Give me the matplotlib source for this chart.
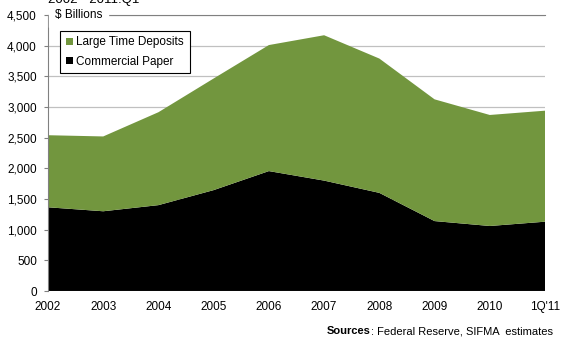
import numpy as np
import matplotlib
matplotlib.use('Agg')
import matplotlib.pyplot as plt
from matplotlib.patches import Patch

plt.rcParams['font.family'] = ['Liberation Sans', 'DejaVu Sans']

# $ billions outstanding, year end (last point is 1Q'11)
periods = ['2002', '2003', '2004', '2005', '2006', '2007', '2008', '2009', '2010', "1Q'11"]
commercial_paper = [1365, 1300, 1400, 1645, 1955, 1800, 1600, 1140, 1060, 1130]
total_outstanding = [2540, 2520, 2915, 3465, 4010, 4170, 3790, 3125, 2870, 2940]
large_time_deposits = [t - c for t, c in zip(total_outstanding, commercial_paper)]

green = '#72963e'

fig = plt.figure(figsize=(5.61, 3.39), dpi=100)
ax = fig.add_axes([48 / 561, 48 / 339, 497 / 561, 276 / 339])

x = np.arange(len(periods))
ax.stackplot(x, commercial_paper, large_time_deposits,
             colors=['black', green], linewidth=0, zorder=2)

ax.set_xlim(0, len(periods) - 1)
ax.set_ylim(0, 4500)
ax.set_yticks(np.arange(0, 4501, 500))
ax.set_yticklabels(['{:,}'.format(v) for v in range(0, 4501, 500)], fontsize=8.5)
ax.set_xticks(x)
ax.set_xticklabels(periods, fontsize=8.5)
ax.tick_params(axis='x', length=0, pad=7)
ax.tick_params(axis='y', length=3, color='#808080', pad=5)

ax.yaxis.grid(True, color='#c0c0c0', linewidth=0.9, zorder=0)
ax.set_axisbelow(True)
for side in ['right', 'bottom']:
    ax.spines[side].set_visible(False)
ax.spines['left'].set_color('#808080')
ax.spines['top'].set_color('#808080')
ax.axhline(0, color='#808080', linewidth=0.8, zorder=3)

# units label sits on the top gridline
ax.text(0.12, 4500, '$ Billions', fontsize=8.5, va='center', ha='left',
        backgroundcolor='white', zorder=5)
fig.text(48 / 561, 1.0, '2002 - 2011:Q1', fontsize=9.5, va='center', ha='left')

handles = [Patch(facecolor=green, label='Large Time Deposits'),
           Patch(facecolor='black', label='Commercial Paper')]
leg = ax.legend(handles=handles, loc='upper left', bbox_to_anchor=(0.012, 0.965),
                fontsize=8.5, handlelength=0.6, handleheight=0.6, handletextpad=0.3,
                fancybox=False, framealpha=1, edgecolor='black', borderpad=0.5,
                labelspacing=0.6)
leg.get_frame().set_linewidth(0.8)
leg.set_zorder(6)

sources_txt = fig.text(0.985, 8 / 339, ': Federal Reserve, SIFMA  estimates',
                       fontsize=8, ha='right', va='center')
fig.canvas.draw()
bb = sources_txt.get_window_extent()
fig.text(bb.x0 / fig.bbox.width, 8 / 339, 'Sources', fontsize=8,
         fontweight='bold', ha='right', va='center')

fig.savefig('out.png', dpi=100)
